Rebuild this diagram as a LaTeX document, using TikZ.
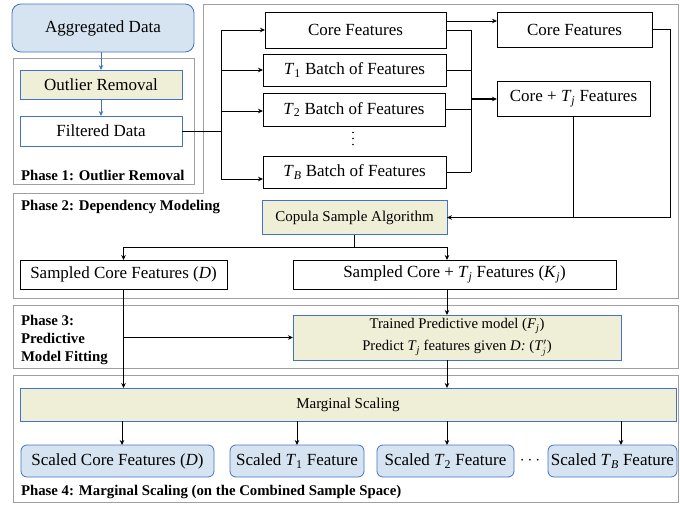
\documentclass[tikz,border=0pt]{standalone}
\usepackage{fontspec}
\setmainfont{Liberation Serif}
\usetikzlibrary{arrows.meta,calc}
\definecolor{lblue}{RGB}{214,228,241}
\definecolor{bblue}{RGB}{68,114,196}
\definecolor{lyel}{RGB}{239,238,214}
\definecolor{phgray}{RGB}{160,160,160}
\newcommand\fsz[2]{\fontsize{#1}{#2}\selectfont}
\newcommand\Tv[1]{\textit{T}\textsubscript{#1}}
\begin{document}
\begin{tikzpicture}[x=1pt,y=-1pt,
  every node/.style={inner sep=0pt,outer sep=0pt},
  txt/.style={font=\fsz{17}{20}},
  bbox/.style={draw=black,line width=0.8pt,fill=white,txt},
  blbox/.style={draw=bblue,line width=0.8pt,txt},
  phase/.style={draw=phgray,line width=1pt},
  plabel/.style={font=\bfseries\fsz{14.8}{18},anchor=west,align=left},
  arr/.style={-{Stealth[length=5pt,width=4.5pt]},line width=0.8pt},
  conn/.style={line width=0.8pt},
  barr/.style={-{Stealth[length=5pt,width=4.5pt]},line width=0.8pt,draw=bblue},
]
\useasboundingbox (0,0) rectangle (680,506);
% phase outlines
\draw[phase] (13,58) rectangle (194,184);
\draw[phase] (203,4) -- (678,4) -- (678,298) -- (13,298) -- (13,193) -- (203,193) -- cycle;
\draw[phase] (13,305) rectangle (678,368);
\draw[phase] (13,375) rectangle (678,502);
% phase labels
\node[plabel] (p1) at (21,175) {Phase 1: Outlier Removal};
\node[plabel] (p2) at (21,207) {Phase 2: Dependency Modeling};
\node[plabel] (p3) at (21,340) {Phase 3:\\Predictive\\Model Fitting};
\node[plabel] (p4) at (21,492) {Phase 4: Marginal Scaling (on the Combined Sample Space)};
% phase 1
\node[blbox,fill=lblue,rounded corners=9pt,minimum width=182pt,minimum height=48pt] (agg) at (103,28) {Aggregated Data};
\node[blbox,fill=lyel,minimum width=162pt,minimum height=29pt] (outl) at (101,84.5) {Outlier Removal};
\node[blbox,fill=white,minimum width=162pt,minimum height=30pt] (filt) at (101,131) {Filtered Data};
% phase 2 boxes
\node[bbox,minimum width=181pt,minimum height=36pt] (core) at (355.5,30) {Core Features};
\node[bbox,minimum width=183pt,minimum height=32pt] (t1) at (354.5,70) {\Tv{1} Batch of Features};
\node[bbox,minimum width=182pt,minimum height=33pt] (t2) at (354,109.5) {\Tv{2} Batch of Features};
\foreach \y in {132.5,138.5,144.5}{\fill (353,\y) circle[radius=0.9pt];}
\node[bbox,minimum width=183pt,minimum height=32pt] (tb) at (354.5,172) {\Tv{\textit{B}} Batch of Features};
\node[bbox,minimum width=155pt,minimum height=35pt] (core2) at (574.5,29.5) {Core Features};
\node[bbox,minimum width=153pt,minimum height=35pt] (coretj) at (573.5,98.5) {Core + \Tv{\textit{j}} Features};
\node[blbox,fill=lyel,font=\fsz{15}{18},minimum width=185pt,minimum height=34pt] (copula) at (354.5,217.5) {Copula Sample Algorithm};
\node[bbox,minimum width=207pt,minimum height=29pt] (sampD) at (123.5,274.5) {Sampled Core Features (\textit{D})};
\node[bbox,minimum width=323pt,minimum height=29pt] (sampK) at (454.5,274.5) {Sampled Core + \Tv{\textit{j}} Features (\textit{K}\textsubscript{\textit{j}})};
% phase 3
\node[blbox,fill=lyel,font=\fsz{14.7}{22},align=center,minimum width=328pt,minimum height=45pt] (trained) at (457,337.5) {Trained Predictive model (\textit{F}\textsubscript{\textit{j}})\\Predict \Tv{\textit{j}} features given \textit{D:} (\textit{T}$'_{\!j}$)};
% phase 4
\node[blbox,fill=lyel,font=\fsz{15}{18},minimum width=656pt,minimum height=33pt] (marg) at (348,404.5) {Marginal Scaling};
\node[blbox,fill=lblue,rounded corners=6pt,minimum width=193pt,minimum height=32pt] (sc0) at (117.5,461) {Scaled Core Features (\textit{D})};
\node[blbox,fill=lblue,rounded corners=6pt,minimum width=134pt,minimum height=32pt] (sc1) at (297,461) {Scaled \Tv{1} Feature};
\node[blbox,fill=lblue,rounded corners=6pt,minimum width=137pt,minimum height=32pt] (sc2) at (445.5,461) {Scaled \Tv{2} Feature};
\node[txt] (hd) at (530,461) {$\cdots$};
\node[blbox,fill=lblue,rounded corners=6pt,minimum width=129pt,minimum height=32pt] (scB) at (612.5,461) {Scaled \Tv{\textit{B}} Feature};
% phase 1 connectors
\draw[barr] (agg.south -| outl.north) -- (outl.north);
\draw[barr] (outl.south) -- (filt.north);
\coordinate (bus) at (221,131);
\coordinate (t2in) at ([yshift=-1.5pt]t2.west);
\coordinate (tbin) at ([yshift=-7pt]tb.west);
\draw[conn] (filt.east) -- (bus);
\draw[conn] (bus |- core.west) -- (bus |- tbin);
\draw[arr] (bus |- core.west) -- (core.west);
\draw[arr] (bus |- t1.west) -- (t1.west);
\draw[arr] (bus |- t2in) -- (t2in);
\draw[arr] (bus |- tbin) -- (tbin);
% right bus
\coordinate (rbus) at (471,99);
\coordinate (coreA) at ([yshift=9pt]core.east);
\draw[arr] (coreA) -- (coreA -| core2.west);
\draw[conn] (core.east) -- (rbus |- core.east);
\draw[conn] (t1.east) -- (rbus |- t1.east);
\draw[conn] (t2.east) -- (rbus |- t2.east);
\draw[conn] (tb.east) -- (rbus |- tb.east);
\draw[conn] (rbus |- core.east) -- (rbus |- tb.east);
\draw[arr,line width=1.4pt] (rbus) -- (rbus -| coretj.west);
% into copula
\coordinate (rr) at (670,217.5);
\draw[arr] (core2.east) -| (rr) -- (copula.east);
\draw[conn] (coretj.south) -- (coretj.south |- rr);
% copula split
\coordinate (split) at (354,247);
\coordinate (colK) at (447,247);
\draw[conn] (copula.south) -- (copula.south |- split);
\draw[conn] (sampD.north |- split) -- (colK);
\draw[arr] (sampD.north |- split) -- (sampD.north);
\draw[arr] (colK) -- (colK |- sampK.north);
% phase 3 connectors
\draw[arr] (sampD.south) -- (sampD.south |- marg.north);
\draw[arr] (sampD.south |- trained.west) -- (trained.west);
\draw[arr] (colK |- sampK.south) -- (colK |- trained.north);
\draw[arr] (colK |- trained.south) -- (colK |- marg.north);
% phase 4 connectors
\foreach \n/\x in {sc0/122,sc1/297,sc2/447,scB/621}{
  \coordinate (m\n) at (\x,0);
  \draw[arr] (m\n |- marg.south) -- (m\n |- \n.north);
}
\end{tikzpicture}
\end{document}
